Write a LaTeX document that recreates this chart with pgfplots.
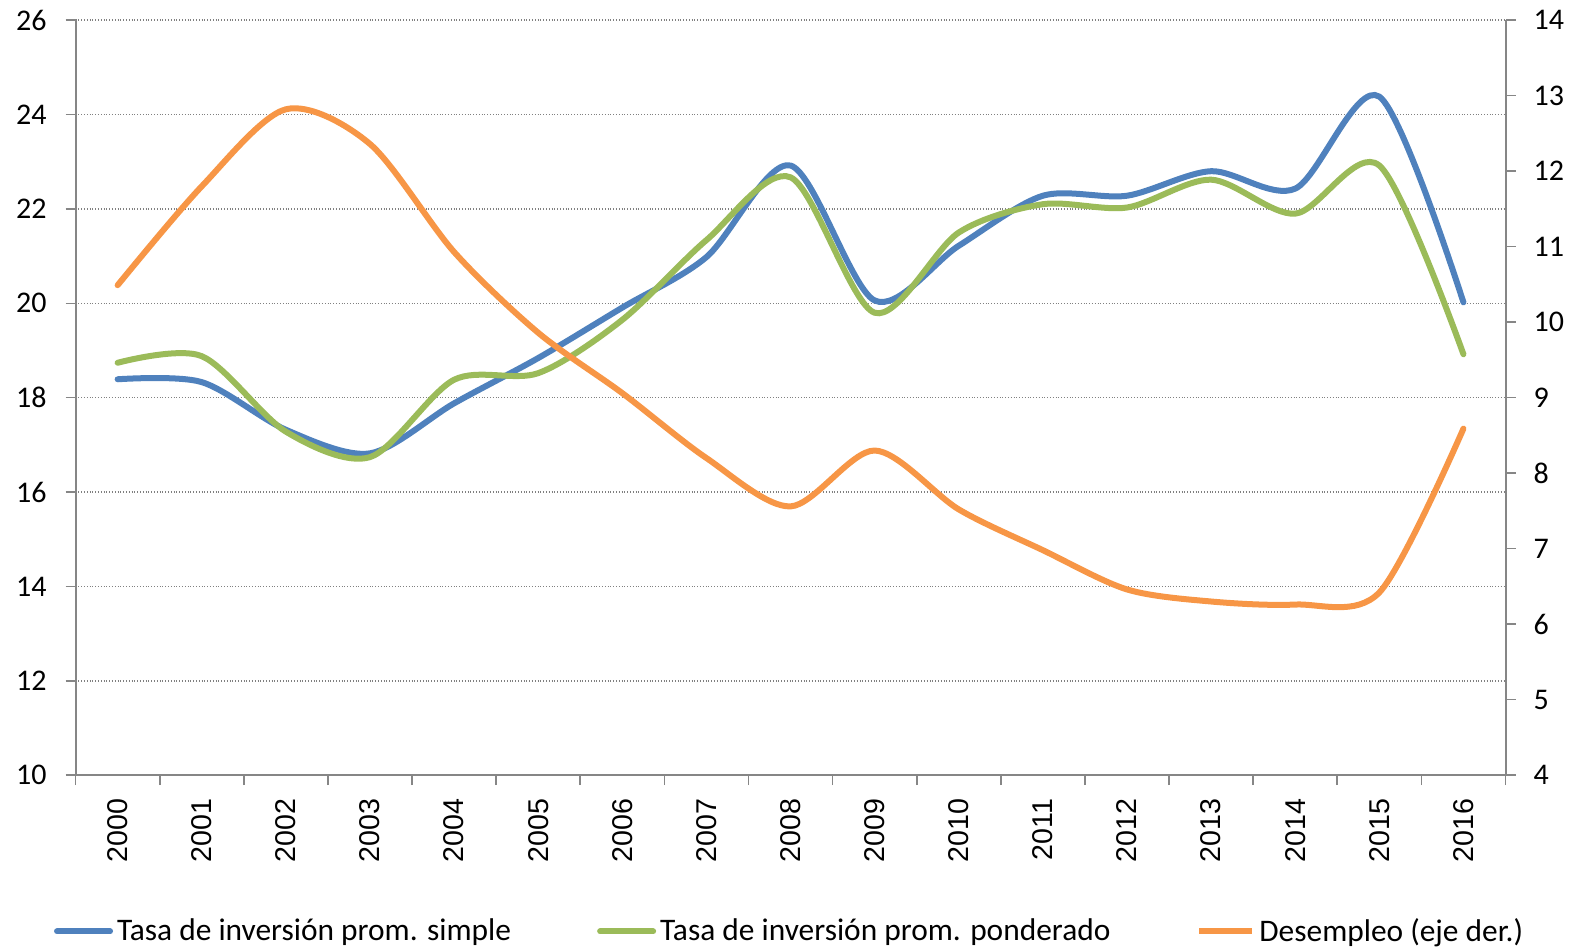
\documentclass[border=0pt]{standalone}
\usepackage{fontspec}
\setmainfont{Carlito}
\newfontfamily\arialf{Liberation Sans}
\usepackage{pgfplots}
\pgfplotsset{compat=1.18}
\definecolor{cblue}{HTML}{4F81BD}
\definecolor{cgreen}{HTML}{9BBB59}
\definecolor{corange}{HTML}{F79646}
\definecolor{axgray}{HTML}{868686}

\pgfplotsset{
  base/.style={scale only axis, width=715pt, height=377.5pt,
    xmin=-0.5, xmax=16.5, at={(0pt,0pt)}, anchor=south west,
    /pgf/number format/assume math mode=true,
    tick align=outside, major tick length=5pt, minor tick length=5pt,
    every tick/.style={axgray, line width=0.8pt},
    axis line style={axgray, line width=1pt}},
  serie/.style={line width=3pt, line cap=round, smooth, tension=0.5}
}

\begin{document}
\begin{tikzpicture}
\begin{axis}[base, ymin=10, ymax=26, ytick={10,12,...,26},
  axis x line*=bottom, axis y line*=left,
  yticklabel style={font=\fontsize{15}{18}\selectfont, xshift=-6pt},
  ymajorgrids, grid style={densely dotted, gray, line width=0.8pt},
  xtick={0,...,16},
  xticklabels={2000,2001,2002,2003,2004,2005,2006,2007,2008,2009,2010,2011,2012,2013,2014,2015,2016},
  major x tick style={draw=none},
  minor xtick={-0.5,0.5,...,16.5},
  xticklabel style={rotate=90, anchor=east, xshift=-3.2pt, font=\arialf\fontsize{14.3}{16}\selectfont},
  legend style={at={(0.5,-0.207)}, anchor=center, legend columns=3, draw=none,
    font=\fontsize{15.7}{19}\selectfont,
    /tikz/every even column/.append style={column sep=41pt}},
  legend cell align=left,
  legend image code/.code={\draw[#1, line width=3pt] (0pt,0pt) -- (26.5pt,0pt);}]
\addplot[serie, cblue] coordinates {(0,18.39) (1,18.33) (2,17.32) (3,16.82) (4,17.88) (5,18.84) (6,19.91) (7,20.98) (8,22.92) (9,20.06) (10,21.22) (11,22.28) (12,22.28) (13,22.80) (14,22.43) (15,24.38) (16,20.02)};
\addlegendentry{Tasa de inversión prom. simple}
\addplot[serie, cgreen] coordinates {(0,18.74) (1,18.88) (2,17.28) (3,16.74) (4,18.38) (5,18.52) (6,19.65) (7,21.34) (8,22.67) (9,19.80) (10,21.50) (11,22.10) (12,22.03) (13,22.62) (14,21.90) (15,22.92) (16,18.92)};
\addlegendentry{Tasa de inversión prom. ponderado}
\addlegendimage{corange, line width=3pt}
\addlegendentry{Desempleo (eje der.)}
\end{axis}
\begin{axis}[base, ymin=4, ymax=14, ytick={4,...,14},
  axis x line=none, axis y line*=right,
  yticklabel style={font=\fontsize{15}{18}\selectfont, xshift=5.5pt}]
\addplot[serie, corange] coordinates {(0,10.49) (1,11.80) (2,12.82) (3,12.36) (4,10.93) (5,9.86) (6,9.06) (7,8.20) (8,7.56) (9,8.30) (10,7.52) (11,6.98) (12,6.46) (13,6.30) (14,6.26) (15,6.42) (16,8.59)};
\end{axis}
\pgfresetboundingbox
\path (-37.8pt,-87pt) rectangle (752.25pt,387.6pt);
\end{tikzpicture}
\end{document}
